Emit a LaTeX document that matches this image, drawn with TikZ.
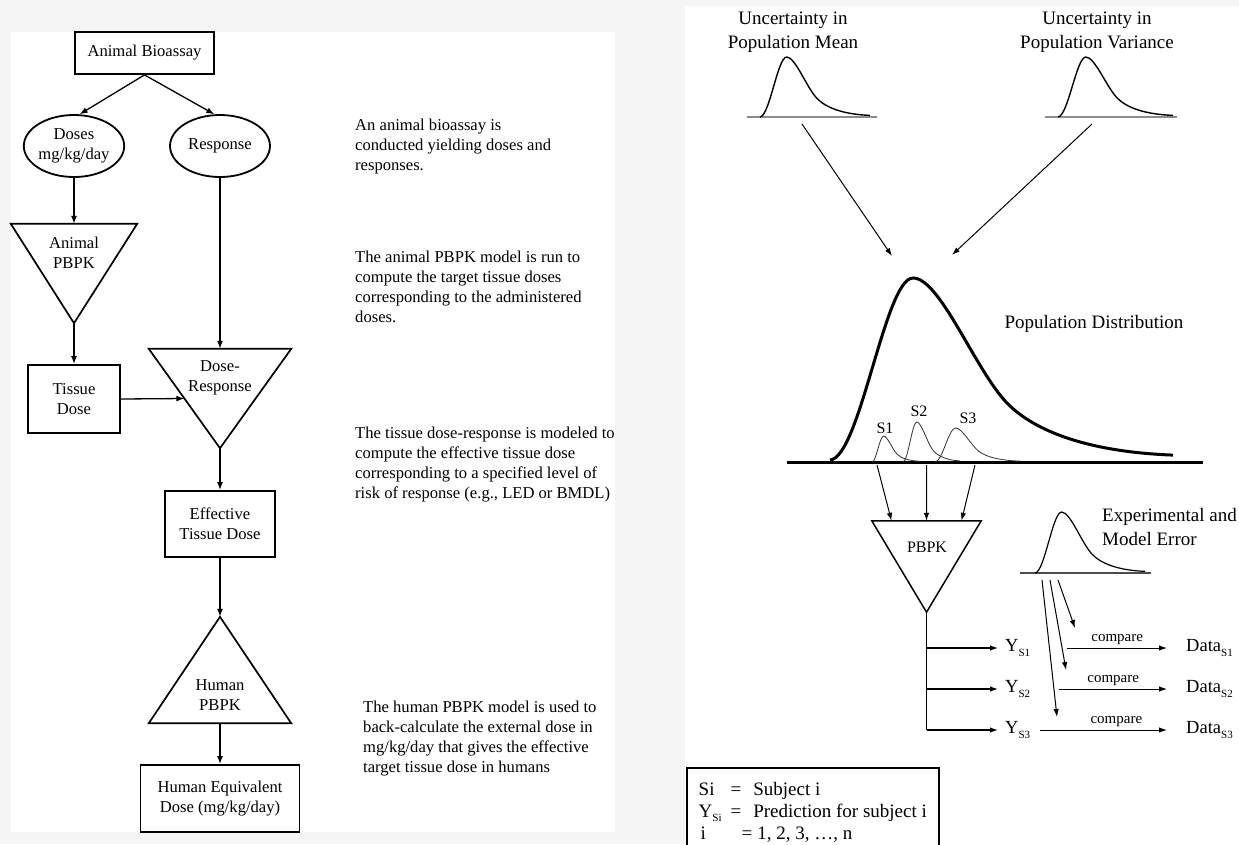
\documentclass[tikz,border=0pt]{standalone}
\usepackage{fontspec}
\setmainfont{Liberation Serif}
\usetikzlibrary{arrows.meta,shapes.geometric,calc}

\definecolor{pagegray}{HTML}{F5F5F5}
\definecolor{axisgray}{HTML}{8C8C8C}

% right-skewed density curve: origin, width, height, style
\newcommand\lncurve[4]{%
  \draw[#4, shift={#1}, xscale=#2, yscale=#3]
    (0,0) .. controls (0.0875,-0.011) and (0.160,-1) .. (0.242,-1)
          .. controls (0.321,-1) and (0.423,-0.495) .. (0.516,-0.313)
          .. controls (0.598,-0.154) and (0.758,-0.044) .. (1,-0.027);}
\newcommand\ysub[1]{\raisebox{-4.5pt}{\fontsize{11}{11}\selectfont #1}}

\begin{document}
\begin{tikzpicture}[x=1pt,y=-1pt,
  every node/.style={inner sep=0pt},
  lft/.style={font=\fontsize{16.6}{20}\selectfont},
  rgt/.style={font=\fontsize{19}{24}\selectfont},
  lab/.style={font=\fontsize{18.5}{22}\selectfont},
  box/.style={draw, line width=1.8pt, rectangle, align=center, lft},
  oval/.style={draw, line width=1.8pt, ellipse, align=center, lft},
  tribound/.style={rectangle, draw=none},
  tri/.style={line width=1.7pt, line join=miter},
  note/.style={lft, align=left, anchor=north west},
  flow/.style={line width=1.3pt, -{Latex[length=8pt,width=6pt]}},
  fine/.style={line width=1pt, -{Latex[length=8pt,width=5.5pt]}},
  small/.style={line width=0.8pt, black!80},
]
\useasboundingbox (0,0) rectangle (1239,844);
\fill[pagegray] (0,0) rectangle (1239,844);
\fill[white] (11,32) rectangle (615,832);
\fill[white] (685,6) rectangle (1239,844);

% ---------------- dose extrapolation flow ----------------
\node[box, minimum width=139pt, minimum height=42pt] (bio) at (144.5,53) {Animal Bioassay};
\node[oval, minimum width=98pt, minimum height=62pt] (doses) at (74,146) {Doses\\mg/kg/day};
\node[oval, minimum width=100pt, minimum height=62pt] (resp) at (220,146) {Response};

\node[tribound, minimum width=126pt, minimum height=99pt] (apbpk) at (74,273.5) {};
\node[lft, align=center] (apbpk-t) at (74,253) {Animal\\PBPK};
\draw[tri] (apbpk.north west) -- (apbpk.north east) -- (apbpk.south) -- cycle;

\node[box, minimum width=92pt, minimum height=68pt] (tissue) at (74,399) {Tissue\\Dose};

\node[tribound, minimum width=142pt, minimum height=99pt] (dr) at (220,398.5) {};
\node[lft, align=center] (dr-t) at (220,378) {Dose-\\Response};
\draw[tri] (dr.north west) -- (dr.north east) -- (dr.south) -- cycle;

\node[box, minimum width=110pt, minimum height=66pt] (eff) at (220,524) {Effective\\Tissue Dose};

\node[tribound, minimum width=142pt, minimum height=106pt] (hpbpk) at (220,670) {};
\node[lft, align=center] (hpbpk-t) at (220,695) {Human\\PBPK};
\draw[tri] (hpbpk.south west) -- (hpbpk.south east) -- (hpbpk.north) -- cycle;

\node[box, minimum width=159pt, minimum height=67pt] (hed) at (220,798.5) {Human Equivalent\\Dose (mg/kg/day)};

\draw[flow] (bio.south) -- (doses.80);
\draw[flow] (bio.south) -- (resp.100);
\draw[flow] (doses.south) -- (apbpk.north);
\draw[flow] (apbpk.south) -- (tissue.north);
\draw[flow] (resp.south) -- (dr.north);
\draw[flow] (tissue.east) -- ($(dr.north west)!0.5!(dr.south)$);
\draw[flow] (dr.south) -- (eff.north);
\draw[flow] (eff.south) -- (hpbpk.north);
\draw[flow] (hpbpk.south) -- (hed.north);

\node[note] (n1) at (355,118.5) {An animal bioassay is\\conducted yielding doses and\\responses.};
\node[note] (n2) at (355,251) {The animal PBPK model is run to\\compute the target tissue doses\\corresponding to the administered\\doses.};
\node[note] (n3) at (355,427) {The tissue dose-response is modeled to\\compute the effective tissue dose\\corresponding to a specified level of\\risk of response (e.g., LED or BMDL)};
\node[note] (n4) at (363,701) {The human PBPK model is used to\\back-calculate the external dose in\\mg/kg/day that gives the effective\\target tissue dose in humans};

% ---------------- population uncertainty ----------------
\node[rgt, align=center] (mean-t) at (793,32) {Uncertainty in\\Population Mean};
\node[rgt, align=center] (var-t) at (1097,32) {Uncertainty in\\Population Variance};

\draw[line width=2.5pt, axisgray] (747,117) -- (877,117);
\draw[line width=2.5pt, axisgray] (1045,117) -- (1177,117);
\lncurve{(760,117)}{110}{60}{line width=1.4pt}
\lncurve{(1058,117)}{115}{60}{line width=1.4pt}

\coordinate (mean-foot) at (802,124);
\coordinate (var-foot) at (1092,124);
\coordinate (mean-tip) at (892,256);
\coordinate (var-tip) at (952,255);
\draw[fine] (mean-foot) -- (mean-tip);
\draw[fine] (var-foot) -- (var-tip);

% population distribution with three subjects
\draw[line width=3pt] (787,462) -- (1203,462);
\lncurve{(830,460)}{343}{182}{line width=3pt}
\lncurve{(872,462)}{48}{26}{small}
\lncurve{(903,462)}{57}{40}{small}
\lncurve{(935,462)}{85}{34}{small}
\node[font=\fontsize{16}{18}\selectfont] (s1) at (885,428) {S1};
\node[font=\fontsize{16}{18}\selectfont] (s2) at (919,411) {S2};
\node[font=\fontsize{16}{18}\selectfont] (s3) at (968,418) {S3};
\node[rgt] (popdist) at (1094,324) {Population Distribution};

\node[tribound, minimum width=109pt, minimum height=91pt] (pbpk) at (926.5,566.5) {};
\draw[line width=1.5pt, line join=miter] (pbpk.north west) -- (pbpk.north east) -- (pbpk.south) -- cycle;
\node[font=\fontsize{16}{18}\selectfont] (pbpk-t) at (927,547) {PBPK};

\coordinate (s1-foot) at (877,465);
\coordinate (s2-foot) at (926.5,465);
\coordinate (s3-foot) at (975,465);
\draw[fine] (s1-foot) -- ($(pbpk.north west)!0.18!(pbpk.north east)$);
\draw[fine] (s2-foot) -- ($(pbpk.north west)!0.5!(pbpk.north east)$);
\draw[fine] (s3-foot) -- ($(pbpk.north west)!0.82!(pbpk.north east)$);

% predictions and comparison with data
\node[lab, anchor=west, inner xsep=7pt] (y1) at (998,648) {Y\ysub{S1}};
\node[lab, anchor=west, inner xsep=7pt] (y2) at (998,689) {Y\ysub{S2}};
\node[lab, anchor=west, inner xsep=7pt] (y3) at (998,730) {Y\ysub{S3}};
\node[lab, anchor=west, inner xsep=19pt] (d1) at (1167,648) {Data\ysub{S1}};
\node[lab, anchor=west, inner xsep=19pt] (d2) at (1167,689) {Data\ysub{S2}};
\node[lab, anchor=west, inner xsep=19pt] (d3) at (1167,730) {Data\ysub{S3}};

\draw[line width=1.3pt] (pbpk.south) -- (pbpk.south |- y3.west);
\draw[fine, line width=1.2pt] (pbpk.south |- y1.west) -- (y1.west);
\draw[fine, line width=1.2pt] (pbpk.south |- y2.west) -- (y2.west);
\draw[fine, line width=1.2pt] (pbpk.south |- y3.west) -- (y3.west);

\draw[fine] ($(y1.east)+(30,0)$) -- node[above=3pt, font=\fontsize{15}{15}\selectfont] {compare} (d1.west);
\draw[fine] ($(y2.east)+(22,0)$) -- node[above=3pt, font=\fontsize{15}{15}\selectfont] {compare} (d2.west);
\draw[fine] ($(y3.east)+(3,0)$) -- node[pos=0.6, above=3pt, font=\fontsize{15}{15}\selectfont] {compare} (d3.west);

% experimental and model error
\draw[line width=1.8pt, black!70] (1020,573) -- (1151,573);
\lncurve{(1035,573)}{110}{61}{line width=1.2pt}
\node[rgt, align=left, anchor=west] (experr) at (1102,527) {Experimental and\\Model Error};

\coordinate (e1-foot) at (1058,580);
\coordinate (e2-foot) at (1050,580);
\coordinate (e3-foot) at (1042,580);
\coordinate (e1-tip) at (1075,628);
\coordinate (e2-tip) at (1066,670);
\coordinate (e3-tip) at (1057,717);
\draw[fine] (e1-foot) -- (e1-tip);
\draw[fine] (e2-foot) -- (e2-tip);
\draw[fine] (e3-foot) -- (e3-tip);

% key to the symbols
\node[draw, line width=1.6pt, anchor=north west, inner xsep=11pt, inner ysep=12pt,
      minimum width=252pt, align=left, font=\fontsize{19}{22}\selectfont] (legend) at (686,767)
  {\begin{tabular}{@{}l@{\hspace{9pt}}l@{\hspace{12pt}}l@{}}
     Si & = & Subject i\\
     Y\ysub{Si} & = & Prediction for subject i\\
     \hspace{2pt}i & \multicolumn{2}{l}{\hspace{5pt}=\hspace{5pt}1, 2, 3, \ldots, n}
   \end{tabular}};
\end{tikzpicture}
\end{document}
